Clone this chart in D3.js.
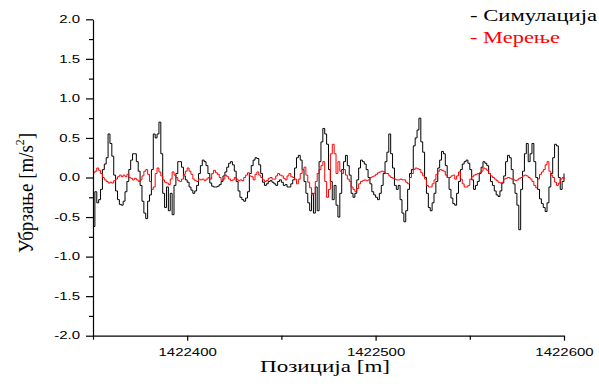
<!DOCTYPE html>
<html><head><meta charset="utf-8">
<script src="https://cdn.jsdelivr.net/npm/d3@7"></script>
<style>body{margin:0;background:#fff}svg{display:block}</style>
</head><body><svg id="c" width="599" height="386"></svg>
<script>
// sampling grid (m), every 1 m
const positions = d3.range(1422350, 1422601, 1);
// Симулација (black)
const simulation = [
-0.62,-0.18,-0.32,-0.28,-0.15,0.1,0.17,0.25,0.55,0.43,
0.27,0.03,-0.17,-0.28,-0.34,-0.35,-0.3,-0.18,-0.05,0.1,
0.22,0.3,0.3,0.2,0.08,-0.1,-0.3,-0.45,-0.52,-0.3,
-0.22,0.1,0.55,0.5,0.55,0.7,0.3,-0.2,-0.38,-0.12,
-0.42,-0.2,-0.47,-0.1,0.05,0.2,0.2,0.13,0.02,-0.03,
-0.06,-0.12,-0.16,-0.2,-0.17,-0.1,0.05,0.15,0.22,0.2,
0.15,0.05,-0.07,-0.11,-0.12,-0.12,-0.11,-0.09,-0.05,0.02,
0.07,0.13,0.18,0.2,0.16,0.08,-0.05,-0.17,-0.25,-0.28,
-0.3,-0.26,-0.18,0.05,0.15,0.22,0.25,0.24,0.16,0.05,
-0.06,-0.1,-0.08,-0.05,-0.04,-0.06,-0.08,-0.1,-0.05,-0.03,
-0.06,-0.1,-0.09,-0.12,-0.12,-0.08,-0.03,0.12,0.25,0.28,
0.22,0.1,-0.05,-0.2,-0.32,-0.42,-0.2,-0.45,-0.12,-0.42,
0.2,0.45,0.62,0.55,0.42,0.1,-0.05,-0.28,-0.1,-0.35,
-0.5,-0.2,0.1,0.2,0.28,0.15,0.03,-0.2,-0.25,-0.2,
-0.03,0.12,0.22,0.2,0.17,0.1,0.0,-0.08,-0.18,-0.22,
-0.25,-0.28,-0.2,-0.1,0.05,0.2,0.32,0.55,0.3,0.12,
-0.1,-0.15,-0.1,-0.28,-0.45,-0.56,-0.42,-0.15,0.05,0.1,
0.4,0.5,0.6,0.75,0.45,0.32,0.0,-0.2,-0.38,-0.42,
-0.32,-0.2,-0.05,0.12,0.22,0.33,0.3,0.15,0.0,-0.15,
-0.26,-0.33,-0.35,-0.2,-0.05,0.1,0.17,0.2,0.22,0.18,
0.1,-0.03,-0.15,-0.1,-0.05,0.05,0.13,0.2,0.18,0.15,
0.05,-0.05,-0.1,-0.17,-0.22,-0.24,-0.17,-0.07,0.02,0.2,
0.28,0.25,0.1,-0.08,-0.2,-0.35,-0.66,-0.15,0.08,0.3,
0.43,0.2,0.3,0.43,0.2,0.0,-0.15,-0.27,-0.33,-0.38,
-0.43,-0.32,-0.12,0.05,0.25,0.42,0.4,0.0,-0.15,-0.05,
0.05];
// Мерење (red)
const measurement = [
0.06,0.08,0.12,0.09,0.05,0.0,-0.03,-0.05,-0.07,-0.06,
-0.07,-0.04,-0.02,0.01,0.03,0.01,0.03,0.01,0.04,0.0,
-0.01,-0.03,-0.01,-0.03,-0.05,-0.03,0.02,0.08,0.1,0.04,
-0.05,-0.15,-0.12,0.05,0.12,0.07,0.02,-0.03,-0.06,-0.07,
-0.09,-0.02,0.07,0.03,0.0,-0.04,-0.05,-0.02,0.04,0.08,
0.12,0.08,0.04,-0.02,-0.04,-0.05,-0.02,-0.03,-0.02,-0.04,
-0.02,0.0,-0.02,0.05,0.09,0.06,0.04,0.0,-0.04,-0.02,
0.03,0.01,-0.02,-0.04,-0.03,0.0,-0.02,-0.04,-0.03,-0.04,
0.0,0.03,0.06,0.02,0.01,-0.03,0.04,0.07,0.03,0.0,
-0.03,-0.05,-0.04,-0.01,0.0,-0.02,-0.02,0.02,0.05,0.03,
0.02,-0.01,-0.03,0.02,0.05,0.01,0.0,-0.02,-0.08,-0.02,
0.05,0.1,0.13,0.03,-0.06,-0.13,-0.22,-0.2,-0.05,0.05,
0.1,0.15,0.2,-0.05,-0.25,-0.15,0.3,0.42,0.3,0.05,
0.2,0.08,0.05,0.1,0.03,-0.02,-0.05,-0.12,-0.15,-0.18,
-0.14,-0.08,-0.05,-0.04,-0.03,-0.04,-0.03,0.0,0.01,0.02,
0.04,0.06,0.07,0.08,0.07,0.05,0.05,0.02,0.0,-0.01,
-0.02,-0.03,-0.03,-0.02,-0.03,-0.03,-0.06,-0.08,0.0,0.05,
0.1,0.12,0.11,0.1,0.06,0.02,-0.02,-0.1,-0.12,-0.12,
-0.08,-0.03,0.04,0.08,0.1,0.09,0.08,0.03,0.0,0.0,
0.02,0.03,-0.02,0.02,0.07,-0.02,-0.08,-0.12,-0.12,-0.1,
-0.02,0.01,0.03,0.04,0.05,0.06,0.08,0.12,0.11,0.09,
0.05,0.02,0.0,-0.02,-0.04,-0.06,-0.07,-0.06,-0.02,-0.01,
0.0,-0.01,-0.02,-0.03,-0.04,-0.03,-0.01,0.0,0.02,0.03,
0.02,0.0,-0.02,-0.05,-0.1,-0.13,-0.02,0.04,0.07,0.1,
0.16,0.2,0.08,0.03,0.0,-0.06,-0.1,-0.07,-0.02,0.0,
-0.02];
const yTicks = [-2.0,-1.5,-1.0,-0.5,0.0,0.5,1.0,1.5,2.0];
const yMinorTicks = [-1.75,-1.25,-0.75,-0.25,0.25,0.75,1.25,1.75];
const xTicks = [1422400,1422500,1422600];
const xMinorTicks = [1422350,1422450,1422550];
const seriesNames = ["- Симулација","- Мерење"];
const seriesColors = ["#000000","#ff0000"];
const xTitle = "Позиција [m]";
const yTitleMain = "Убрзање [m/s";
const yTitleSup = "2";
const yTitleEnd = "]";

const svg = d3.select("#c");
const x = d3.scaleLinear().domain([1422350,1422600]).range([93,564]);
const y = d3.scaleLinear().domain([-2,2]).range([335.7,19.3]);
const SX = 1.5;

// lines
const line = d3.line().curve(d3.curveStepAfter).x((d,i)=>x(positions[i])).y(d=>y(d));
svg.append("path").datum(simulation).attr("d",line)
  .attr("fill","none").attr("stroke",seriesColors[0]).attr("stroke-width",1);
svg.append("path").datum(measurement).attr("d",line)
  .attr("fill","none").attr("stroke",seriesColors[1]).attr("stroke-width",1);

// y axis
const gy = svg.append("g").attr("transform","translate(93,0)")
  .call(d3.axisLeft(y).tickValues(yTicks).tickSize(7).tickSizeOuter(0).tickFormat(d=>d.toFixed(1)));
gy.selectAll(".tick text").attr("x",-13/SX).attr("transform",`scale(${SX},1)`)
  .attr("font-family","'Liberation Sans', Arial, sans-serif").attr("font-size",10).attr("fill","#000");
const gy2 = svg.append("g").attr("transform","translate(93,0)")
  .call(d3.axisLeft(y).tickValues(yMinorTicks).tickSize(4).tickFormat(""));
gy2.select(".domain").remove();

// x axis
const gx = svg.append("g").attr("transform","translate(0,335.7)")
  .call(d3.axisBottom(x).tickValues(xTicks).tickSize(5).tickSizeOuter(0).tickFormat(d=>String(d)));
gx.selectAll(".tick text").attr("y",13).attr("transform",`scale(${SX},1)`)
  .attr("font-family","'Liberation Sans', Arial, sans-serif").attr("font-size",10).attr("fill","#000");
const gx2 = svg.append("g").attr("transform","translate(0,335.7)")
  .call(d3.axisBottom(x).tickValues(xMinorTicks).tickSize(4).tickFormat(""));
gx2.select(".domain").remove();

svg.selectAll(".domain, .tick line").attr("stroke","#000").attr("stroke-width",1.2);

// x title
svg.append("text").attr("x",260).attr("y",372)
  .attr("font-family","'Liberation Serif', 'Times New Roman', serif").attr("font-size",16)
  .attr("textLength",130).attr("lengthAdjust","spacingAndGlyphs").attr("fill","#000").text(xTitle);

// y title
const yt = svg.append("text").attr("transform","translate(33,253) rotate(-90) scale(1,1.3)")
  .attr("font-family","'Liberation Serif', 'Times New Roman', serif").attr("font-size",16)
  .attr("textLength",120).attr("lengthAdjust","spacingAndGlyphs").attr("fill","#000");
yt.append("tspan").text(yTitleMain);
yt.append("tspan").attr("dy",-7).attr("font-size",10).text(yTitleSup);
yt.append("tspan").attr("dy",7).text(yTitleEnd);

// legend
const legendY = [21,43];
const legendW = [127,90];
seriesNames.forEach((n,i)=>{
  svg.append("text").attr("x",470).attr("y",legendY[i])
    .attr("font-family","'Liberation Serif', 'Times New Roman', serif").attr("font-size",16)
    .attr("textLength",legendW[i]).attr("lengthAdjust","spacingAndGlyphs")
    .attr("fill",seriesColors[i]).text(n);
});
</script></body></html>
